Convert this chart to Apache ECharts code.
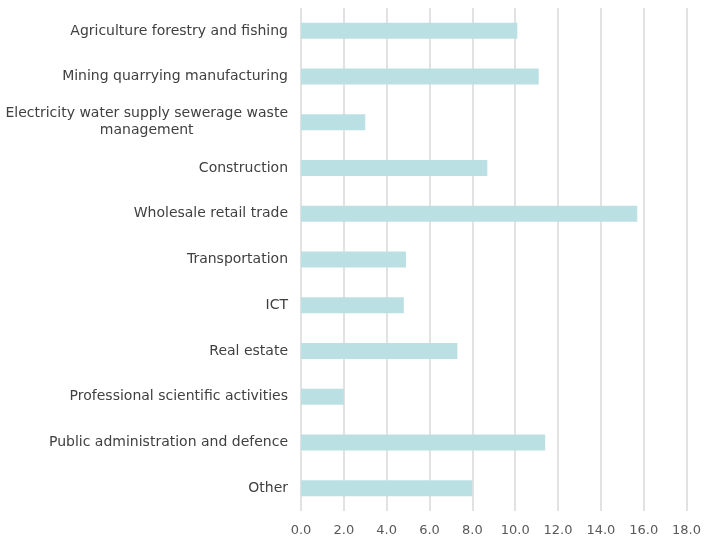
<!DOCTYPE html>
<html>
<head>
<meta charset="utf-8">
<script src="https://cdn.jsdelivr.net/npm/echarts@6/dist/echarts.min.js"></script>
<style>
  html, body { margin: 0; padding: 0; background: #fff; }
  #chart { width: 704px; height: 538px; }
</style>
</head>
<body>
<div id="chart"></div>
<script>
// sectors, top to bottom
var sectors = [
  'Agriculture forestry and fishing',
  'Mining quarrying manufacturing',
  'Electricity water supply sewerage waste management',
  'Construction',
  'Wholesale retail trade',
  'Transportation',
  'ICT',
  'Real estate',
  'Professional scientific activities',
  'Public administration and defence',
  'Other'
];
var shares = [10.1, 11.1, 3.0, 8.7, 15.7, 4.9, 4.8, 7.3, 2.0, 11.4, 8.0];
var xTicks = [0, 2, 4, 6, 8, 10, 12, 14, 16, 18];

var myChart = echarts.init(document.getElementById('chart'));

// long labels wrap onto a second, centred line
function wrapLabel(s) {
  if (s.length <= 40) return '{c|' + s + '}';
  var cut = s.lastIndexOf(' ', 40);
  return '{c|' + s.slice(0, cut) + '}\n{c|' + s.slice(cut + 1) + '}';
}

var option = {
  animation: false,
  grid: {
    left: 301,
    right: 15,
    top: 8,
    bottom: 27,
    containLabel: false
  },
  xAxis: {
    type: 'value',
    min: xTicks[0],
    max: xTicks[xTicks.length - 1],
    interval: 2,
    axisLine: { show: false },
    axisTick: { show: false },
    axisLabel: {
      margin: 13,
      fontFamily: 'DejaVu Sans',
      fontSize: 13,
      color: '#595959',
      formatter: function (v) { return v.toFixed(1); }
    },
    splitLine: {
      show: true,
      lineStyle: { color: '#D9D9D9', width: 1.5 }
    }
  },
  yAxis: {
    type: 'category',
    inverse: true,
    data: sectors,
    axisLine: { show: false },
    axisTick: { show: false },
    axisLabel: {
      margin: 13,
      fontFamily: 'DejaVu Sans',
      fontSize: 14,
      color: '#404040',
      lineHeight: 17,
      formatter: wrapLabel,
      rich: {
        c: { align: 'center', fontFamily: 'DejaVu Sans', fontSize: 14, color: '#404040', lineHeight: 17 }
      }
    }
  },
  series: [{
    type: 'bar',
    data: shares,
    barWidth: 16,
    itemStyle: { color: '#BBE0E3' }
  }]
};

myChart.setOption(option);
</script>
</body>
</html>
